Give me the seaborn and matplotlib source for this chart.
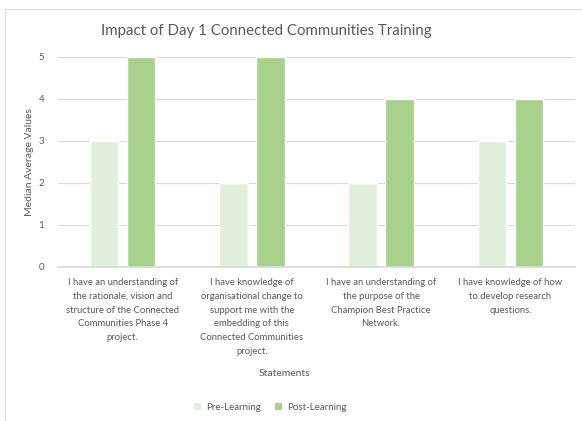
import matplotlib
matplotlib.use("Agg")
import matplotlib.pyplot as plt
import seaborn as sns
import pandas as pd
from matplotlib.patches import Rectangle, Patch

statements = [
    "I have an understanding of\nthe rationale, vision and\nstructure of the Connected\nCommunities Phase 4\nproject.",
    "I have knowledge of\norganisational change to\nsupport me with the\nembedding of this\nConnected Communities\nproject.",
    "I have an understanding of\nthe purpose of the\nChampion Best Practice\nNetwork.",
    "I have knowledge of how\nto develop research\nquestions.",
]
pre_learning = [3, 2, 2, 3]
post_learning = [5, 5, 4, 4]
series = ["Pre-Learning", "Post-Learning"]
colors = ["#E2EFDA", "#A9D18E"]

df = pd.DataFrame({
    "Statement": statements * 2,
    "Value": pre_learning + post_learning,
    "Series": [series[0]] * 4 + [series[1]] * 4,
})

sns.set_theme(style="white")
plt.rcParams["font.family"] = ["Lato", "DejaVu Sans"]

fig = plt.figure(figsize=(5.82, 4.21), dpi=100)
ax = fig.add_axes([58 / 582, 1 - 267 / 421, (575 - 58) / 582, (267 - 57) / 421])

sns.barplot(data=df, x="Statement", y="Value", hue="Series", palette=colors,
            width=0.572, gap=0.23, ax=ax, legend=False, saturation=1)

ax.set_ylim(0, 5)
ax.set_yticks([0, 1, 2, 3, 4, 5])
ax.set_xlim(-0.5, 3.5)
ax.yaxis.grid(True, color="#D9D9D9", linewidth=0.8)
ax.set_axisbelow(True)
for s in ["top", "right", "left"]:
    ax.spines[s].set_visible(False)
ax.spines["bottom"].set_color("#D9D9D9")
ax.tick_params(axis="y", length=0, pad=10, labelsize=7, labelcolor="#595959")
ax.tick_params(axis="x", length=0, pad=8, labelsize=6.8, labelcolor="#595959")
for lbl in ax.get_xticklabels():
    lbl.set_linespacing(1.68)
ax.set_xlabel("")
ax.set_ylabel("")

fig.text(30 / 582, 1 - 162 / 421, "Median Average Values", rotation=90,
         ha="center", va="center", fontsize=7.5, color="#595959")
fig.text(284 / 582, 1 - 373 / 421, "Statements", ha="center", va="center",
         fontsize=7.5, color="#595959")
fig.text(266 / 582, 1 - 31 / 421, "Impact of Day 1 Connected Communities Training",
         ha="center", va="center", fontsize=10.8, color="#595959")

handles = [Patch(facecolor=c, edgecolor="none") for c in colors]
fig.legend(handles, series, loc="center", bbox_to_anchor=(270 / 582, 1 - 407 / 421),
           ncol=2, frameon=False, fontsize=7, handlelength=0.7, handleheight=0.7,
           handletextpad=0.5, columnspacing=1.5, labelcolor="#595959")

fig.patches.append(Rectangle((5 / 582, -0.01), 1.0, 1 - 9 / 421 + 0.01,
                             transform=fig.transFigure, fill=False,
                             edgecolor="#D9D9D9", linewidth=0.8))

fig.savefig("out.png", dpi=100)
